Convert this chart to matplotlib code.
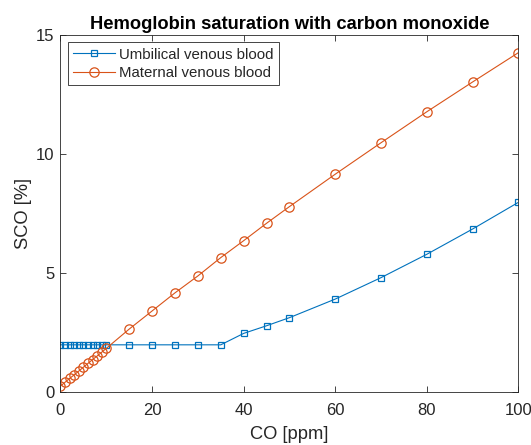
import matplotlib.pyplot as plt

plt.rcParams['font.family'] = ['Liberation Sans', 'DejaVu Sans']

# CO concentration [ppm]
co_ppm = [0, 1, 2, 3, 4, 5, 6, 7, 8, 9, 10,
          15, 20, 25, 30, 35, 40, 45, 50, 60, 70, 80, 90, 100]

# SCO [%]
umbilical = [2.0, 2.0, 2.0, 2.0, 2.0, 2.0, 2.0, 2.0, 2.0, 2.0, 2.0,
             2.0, 2.0, 2.0, 2.0, 2.0, 2.48, 2.80, 3.14, 3.92, 4.82, 5.80, 6.86, 7.98]
maternal = [0.27, 0.43, 0.59, 0.74, 0.90, 1.06, 1.22, 1.38, 1.53, 1.69, 1.85,
            2.66, 3.42, 4.18, 4.89, 5.66, 6.37, 7.10, 7.80, 9.16, 10.48, 11.78, 13.03, 14.26]

blue = '#0072BD'
orange = '#D95319'
axcol = '#262626'

fig = plt.figure(figsize=(5.31, 4.45), dpi=100)
ax = fig.add_axes([0.1139, 0.1180, 0.8625, 0.8034])

ax.plot(co_ppm, umbilical, color=blue, lw=0.8, marker='s', ms=5,
        mfc='none', mec=blue, mew=0.9, label='Umbilical venous blood')
ax.plot(co_ppm, maternal, color=orange, lw=0.8, marker='o', ms=6.7,
        mfc='none', mec=orange, mew=0.9, label='Maternal venous blood')

ax.set_xlim(0, 100)
ax.set_ylim(0, 15)
ax.set_xticks([0, 20, 40, 60, 80, 100])
ax.set_yticks([0, 5, 10, 15])
ax.tick_params(direction='in', length=4.5, width=0.6, colors=axcol,
               labelsize=12, top=True, right=True, labeltop=False, labelright=False)
ax.tick_params(axis='x', pad=7.5)
ax.tick_params(axis='y', pad=4.5)
for s in ax.spines.values():
    s.set_color(axcol)
    s.set_linewidth(0.6)

ax.set_xlabel('CO [ppm]', fontsize=13.2, color=axcol, labelpad=6)
ax.set_ylabel('SCO [%]', fontsize=13.2, color=axcol, labelpad=3)
ax.set_title('Hemoglobin saturation with carbon monoxide', fontsize=13.2,
             fontweight='bold', pad=4)

leg = ax.legend(loc='upper left', fontsize=10.8, frameon=True, fancybox=False,
                edgecolor=axcol, framealpha=1, handlelength=2.8,
                borderpad=0.35, labelspacing=0.3, handletextpad=0.25,
                borderaxespad=0.5)
leg.get_frame().set_linewidth(0.6)
for t in leg.get_texts():
    t.set_color(axcol)

fig.savefig('out.png', dpi=100)
